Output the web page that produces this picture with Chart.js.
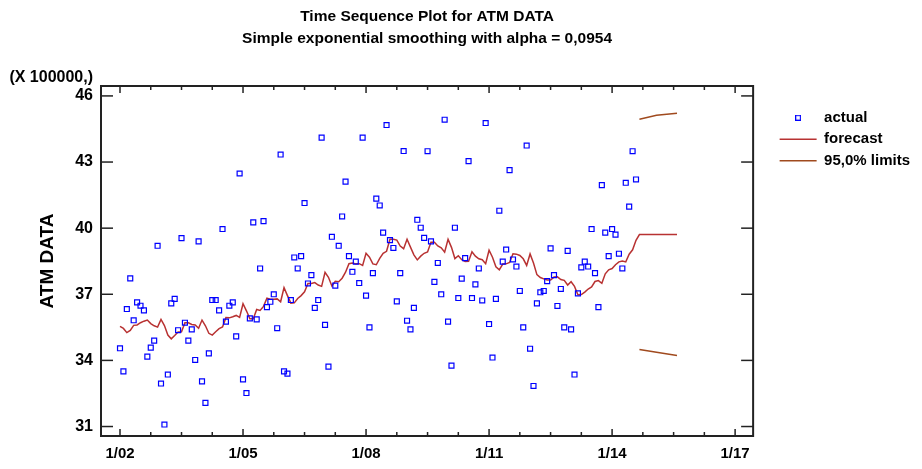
<!DOCTYPE html>
<html>
<head>
<meta charset="utf-8">
<script src="https://cdn.jsdelivr.net/npm/chart.js@4.4.1/dist/chart.umd.min.js"></script>
<style>
  html, body { margin: 0; padding: 0; background: #ffffff; }
  #wrap { width: 922px; height: 469px; }
</style>
</head>
<body>
<div id="wrap"><canvas id="c" width="922" height="469"></canvas></div>
<script>
// ---- data (months counted from Jan 2002 = 0) ----
const titleText = 'Time Sequence Plot for ATM DATA';
const subtitleText = 'Simple exponential smoothing with alpha = 0,0954';
const yAxisTitle = 'ATM DATA';
const multiplierLabel = '(X 100000,)';
const seriesNames = ['actual', 'forecast', '95,0% limits'];

const firstMonth = 0;
const actualValues = [
  34.55, 33.5, 36.33, 37.72, 35.82, 36.63, 36.48, 36.27, 34.17, 34.58,
  34.9, 39.2, 32.95, 31.09, 33.36, 36.59, 36.79, 35.37, 39.55, 35.71,
  34.9, 35.41, 34.02, 39.4, 33.05, 32.07, 34.32, 36.74, 36.74, 36.27,
  39.96, 35.76, 36.48, 36.63, 35.09, 42.48, 33.14, 32.52, 35.91, 40.26,
  35.86, 38.17, 40.32, 36.42, 36.66, 37.0, 35.46, 43.34, 33.5, 33.4,
  36.74, 38.67, 38.17, 38.73, 41.14, 37.49, 37.87, 36.38, 36.74, 44.11,
  35.61, 33.72, 39.61, 37.39, 39.2, 40.53, 42.11, 38.73, 38.02, 38.48,
  37.51, 44.11, 36.94, 35.5, 37.96, 41.34, 41.03, 39.8, 44.68, 39.46,
  39.1, 36.68, 37.96, 43.5, 35.8, 35.41, 36.38, 40.38, 40.02, 39.56,
  43.49, 39.4, 37.56, 38.42, 37.0, 44.92, 35.76, 33.76, 40.02, 36.83,
  37.71, 38.64, 43.04, 36.83, 37.45, 38.17, 36.72, 44.77, 35.65, 34.13,
  36.79, 40.79, 38.48, 39.03, 42.63, 38.58, 38.26, 37.15, 35.5, 43.75,
  34.53, 32.84, 36.59, 37.09, 37.15, 37.6, 39.08, 37.87, 36.47, 37.24,
  35.5, 38.97, 35.41, 33.36, 37.04, 38.22, 38.48, 38.26, 39.96, 37.96,
  36.42, 41.95, 39.8, 38.73, 39.96, 39.71, 38.84, 38.17, 42.06, 40.98,
  43.49, 42.21
];
const fittedValues = [
  35.54, 35.45, 35.26, 35.36, 35.59, 35.61, 35.71, 35.78, 35.83, 35.67,
  35.57, 35.51, 35.86, 35.58, 35.15, 34.98, 35.13, 35.29, 35.30, 35.71,
  35.71, 35.63, 35.61, 35.46, 35.83, 35.57, 35.23, 35.15, 35.30, 35.44,
  35.52, 35.94, 35.93, 35.98, 36.04, 35.95, 36.57, 36.25, 35.89, 35.89,
  36.31, 36.27, 36.45, 36.82, 36.78, 36.77, 36.79, 36.66, 37.30, 36.94,
  36.60, 36.61, 36.81, 36.94, 37.11, 37.49, 37.49, 37.53, 37.42, 37.36,
  38.00, 37.77, 37.38, 37.59, 37.57, 37.73, 38.00, 38.39, 38.42, 38.38,
  38.39, 38.31, 38.86, 38.68, 38.38, 38.34, 38.63, 38.86, 38.95, 39.50,
  39.50, 39.46, 39.19, 39.07, 39.50, 39.14, 38.79, 38.56, 38.73, 38.86,
  38.92, 39.36, 39.36, 39.19, 39.11, 38.91, 39.49, 39.13, 38.62, 38.75,
  38.57, 38.49, 38.50, 38.93, 38.73, 38.61, 38.57, 38.39, 39.00, 38.68,
  38.25, 38.11, 38.37, 38.38, 38.44, 38.84, 38.82, 38.76, 38.61, 38.31,
  38.83, 38.42, 37.89, 37.76, 37.70, 37.65, 37.65, 37.78, 37.79, 37.67,
  37.63, 37.42, 37.57, 37.36, 36.98, 36.99, 37.10, 37.24, 37.33, 37.58,
  37.62, 37.50, 37.93, 38.11, 38.17, 38.34, 38.47, 38.51, 38.47, 38.82,
  39.02, 39.45
];
const forecastAhead = [39.71, 39.71, 39.71, 39.71, 39.71, 39.71, 39.71, 39.71, 39.71, 39.71, 39.71, 39.71];
const limitMonths = [152, 157, 163];
const upperLimit = [44.94, 45.12, 45.21];
const lowerLimit = [34.49, 34.37, 34.22];

const xTickMonths = [0, 36, 72, 108, 144, 180];
const xTickLabels = ['1/02', '1/05', '1/08', '1/11', '1/14', '1/17'];
const xMinorMonths = [9, 18, 27, 45, 54, 63, 81, 90, 99, 117, 126, 135, 153, 162, 171];
const yTickValues = [31, 34, 37, 40, 43, 46];

// ---- build datasets ----
const actualPts = actualValues.map((v, i) => ({ x: firstMonth + i, y: v }));
const fitLen = fittedValues.length;
const forecastPts = fittedValues.map((v, i) => ({ x: firstMonth + i, y: v }))
  .concat(forecastAhead.map((v, i) => ({ x: firstMonth + fitLen + i, y: v })));
const upperPts = limitMonths.map((m, i) => ({ x: m, y: upperLimit[i] }));
const lowerPts = limitMonths.map((m, i) => ({ x: m, y: lowerLimit[i] }));

const FONT = '"Liberation Sans", Arial, Helvetica, sans-serif';
const BLUE = '#0000ff';
const RED = '#b83232';
const BROWN = '#a04a1e';

// legend square marker
const sq = document.createElement('canvas');
sq.width = 6; sq.height = 6;
(function () {
  const g = sq.getContext('2d');
  g.strokeStyle = BLUE; g.lineWidth = 1.2;
  g.strokeRect(0.6, 0.6, 4.8, 4.8);
})();

const frameTicks = {
  id: 'frameTicks',
  afterDatasetsDraw(chart) {
    const { ctx, chartArea: a, scales } = chart;
    const x = scales.x, y = scales.y;
    ctx.save();
    ctx.strokeStyle = '#222';
    ctx.lineWidth = 1.5;
    const seg = (x1, y1, x2, y2) => { ctx.beginPath(); ctx.moveTo(x1, y1); ctx.lineTo(x2, y2); ctx.stroke(); };
    x.ticks.forEach(t => {
      const px = x.getPixelForValue(t.value);
      seg(px, a.bottom, px, a.bottom - 7);
      seg(px, a.top, px, a.top + 7);
    });
    xMinorMonths.forEach(m => {
      const px = x.getPixelForValue(m);
      seg(px, a.bottom, px, a.bottom - 4);
      seg(px, a.top, px, a.top + 4);
    });
    y.ticks.forEach(t => {
      const py = y.getPixelForValue(t.value);
      seg(a.left, py, a.left + 12, py);
      seg(a.right, py, a.right - 12, py);
    });
    ctx.lineWidth = 2;
    ctx.strokeRect(a.left, a.top, a.right - a.left, a.bottom - a.top);
    ctx.fillStyle = '#000';
    ctx.font = 'bold 16px ' + FONT;
    ctx.textAlign = 'right';
    ctx.textBaseline = 'alphabetic';
    ctx.fillText(multiplierLabel, y.right - 8, a.top - 4);
    ctx.restore();
  }
};

new Chart(document.getElementById('c'), {
  type: 'scatter',
  data: {
    datasets: [
      {
        label: seriesNames[0], data: actualPts, showLine: false,
        pointStyle: 'rect', pointRadius: 3.5, pointBorderWidth: 1.2,
        borderColor: BLUE, backgroundColor: 'rgba(0,0,0,0)',
        pointBorderColor: BLUE, pointBackgroundColor: 'rgba(0,0,0,0)'
      },
      {
        label: seriesNames[1], data: forecastPts, showLine: true,
        borderColor: RED, backgroundColor: RED, borderWidth: 1.5,
        pointRadius: 0, tension: 0
      },
      {
        label: seriesNames[2], data: upperPts, showLine: true,
        borderColor: BROWN, backgroundColor: BROWN, borderWidth: 1.5,
        pointRadius: 0, tension: 0
      },
      {
        label: 'lower', data: lowerPts, showLine: true,
        borderColor: BROWN, backgroundColor: BROWN, borderWidth: 1.5,
        pointRadius: 0, tension: 0
      }
    ]
  },
  options: {
    responsive: false,
    animation: false,
    events: [],
    layout: { padding: { left: 0, top: 0, bottom: 0, right: 2 } },
    scales: {
      x: {
        type: 'linear', position: 'bottom',
        min: -5.56, max: 185.27,
        afterBuildTicks: s => { s.ticks = xTickMonths.map(v => ({ value: v })); },
        afterFit: s => { s.height = 33; },
        ticks: {
          padding: 8.5, color: '#000', maxRotation: 0, autoSkip: false,
          font: { family: FONT, size: 15, weight: 'bold' },
          callback: (v) => { const k = xTickMonths.indexOf(v); return k >= 0 ? xTickLabels[k] : ''; }
        },
        grid: { display: false, drawTicks: false, tickLength: 0 },
        border: { display: false }
      },
      y: {
        type: 'linear', position: 'left',
        min: 30.57, max: 46.45,
        afterBuildTicks: s => { s.ticks = yTickValues.map(v => ({ value: v })); },
        afterFit: s => { s.width = 101; },
        ticks: {
          padding: 8, color: '#000',
          font: { family: FONT, size: 16, weight: 'bold' }
        },
        grid: { display: false, drawTicks: false, tickLength: 0 },
        border: { display: false },
        title: {
          display: true, text: yAxisTitle, color: '#000',
          font: { family: FONT, size: 19, weight: 'bold' },
          padding: { top: 36.6, bottom: 0 }
        }
      },
      y2: {
        type: 'linear', position: 'right', display: true,
        afterFit: s => { s.width = 20; },
        ticks: { display: false },
        grid: { display: false, drawTicks: false },
        border: { display: false }
      }
    },
    plugins: {
      tooltip: { enabled: false },
      title: {
        display: true, text: titleText, color: '#000', fullSize: false,
        font: { family: FONT, size: 15.5, weight: 'bold' },
        padding: { top: 7, bottom: 3.4 }
      },
      subtitle: {
        display: true, text: subtitleText, color: '#000', fullSize: false,
        font: { family: FONT, size: 15.5, weight: 'bold' },
        padding: { top: 0, bottom: 38.4 }
      },
      legend: {
        display: true, position: 'right', align: 'start', fullSize: false,
        title: { display: true, text: '', font: { size: 10 }, padding: { top: 3, bottom: 2.7 } },
        labels: {
          usePointStyle: true, pointStyleWidth: 37, padding: 6.5,
          color: '#000',
          font: { family: FONT, size: 15, weight: 'bold' },
          filter: (item) => item.datasetIndex !== 3,
          generateLabels: (chart) => {
            const items = Chart.defaults.plugins.legend.labels.generateLabels(chart);
            items.forEach(it => {
              if (it.datasetIndex === 0) { it.pointStyle = sq; }
              else { it.pointStyle = 'line'; it.lineWidth = 1.5; }
            });
            return items;
          }
        }
      }
    }
  },
  plugins: [frameTicks]
});
</script>
</body>
</html>
